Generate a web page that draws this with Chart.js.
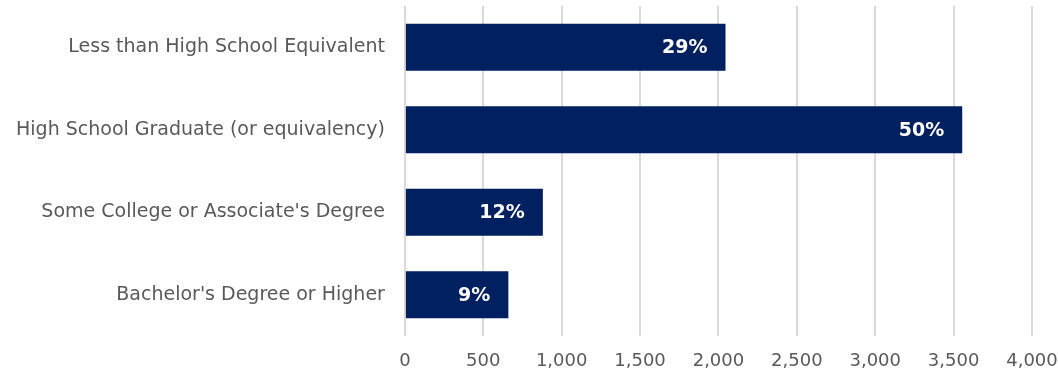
<!DOCTYPE html>
<html>
<head>
<meta charset="utf-8">
<script src="https://cdn.jsdelivr.net/npm/chart.js@4"></script>
<style>
  html, body { margin: 0; padding: 0; background: #ffffff; }
  #wrap { width: 1058px; height: 376px; position: relative; }
</style>
</head>
<body>
<div id="wrap"><canvas id="chart"></canvas></div>
<script>
// Education level data
const categories = [
    'Less than High School Equivalent',
    'High School Graduate (or equivalency)',
    "Some College or Associate's Degree",
    "Bachelor's Degree or Higher"
];
const counts = [2045, 3555, 880, 660];
const shares = ['29%', '50%', '12%', '9%'];

const barColor = '#002060';
const textColor = '#595959';
const fontFamily = '"DejaVu Sans", sans-serif';

// Draws the share label inside the end of each bar
const barLabels = {
    id: 'barLabels',
    afterDatasetsDraw(chart) {
        const ctx = chart.ctx;
        const meta = chart.getDatasetMeta(0);
        ctx.save();
        ctx.fillStyle = '#ffffff';
        ctx.font = 'bold 19px ' + fontFamily;
        ctx.textAlign = 'right';
        ctx.textBaseline = 'middle';
        meta.data.forEach((bar, i) => {
            ctx.fillText(shares[i], bar.x - 18, bar.y + 1);
        });
        ctx.restore();
    }
};

new Chart(document.getElementById('chart'), {
    type: 'bar',
    data: {
        labels: categories,
        datasets: [{
            data: counts,
            backgroundColor: barColor,
            barPercentage: 0.57,
            categoryPercentage: 1.0
        }]
    },
    options: {
        indexAxis: 'y',
        responsive: true,
        maintainAspectRatio: false,
        animation: false,
        layout: { padding: { top: 6, right: 26, bottom: 0, left: 16 } },
        plugins: {
            legend: { display: false },
            tooltip: { enabled: false }
        },
        scales: {
            x: {
                min: 0,
                max: 4000,
                ticks: {
                    stepSize: 500,
                    color: textColor,
                    font: { family: fontFamily, size: 18 },
                    padding: 0,
                    callback: v => v.toLocaleString('en-US')
                },
                // hidden tick marks give the gap under the bars
                grid: { color: '#d9d9d9', lineWidth: 2, drawTicks: true, tickLength: 15, tickColor: 'rgba(0,0,0,0)' },
                border: { display: false },
                afterFit: scale => { scale.height = 40; }
            },
            y: {
                ticks: {
                    color: textColor,
                    font: { family: fontFamily, size: 19, lineHeight: 0.6 },
                    padding: 0
                },
                // invisible tick marks just reserve the gap between labels and bars
                grid: { color: 'rgba(0,0,0,0)', drawOnChartArea: false, drawTicks: true, tickLength: 20 },
                border: { display: false }
            }
        }
    },
    plugins: [barLabels]
});
</script>
</body>
</html>
